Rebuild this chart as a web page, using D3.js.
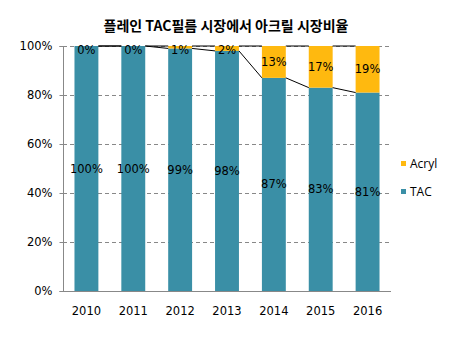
<!DOCTYPE html>
<html><head><meta charset="utf-8">
<script src="https://cdn.jsdelivr.net/npm/d3@7"></script>
<style>body{margin:0;background:#fff}svg{display:block}</style>
</head><body>
<script>
const years = ["2010","2011","2012","2013","2014","2015","2016"];
const tac = [100,100,99,98,87,83,81];
const acryl = [0,0,1,2,13,17,19];
const yTicks = [0,20,40,60,80,100];
const title = "플레인 TAC필름 시장에서 아크릴 시장비율";

const W=452,H=339;
const svg=d3.select("body").append("svg").attr("width",W).attr("height",H);
const x=d3.scaleBand().domain(years).range([63,391]).paddingInner(0.49).paddingOuter(0.245);
const y=d3.scaleLinear().domain([0,100]).range([291,46]);
const cTac="#3A8FA6", cAcr="#FFB90F";
const font="DejaVu Sans";

svg.append("text").attr("x",226).attr("y",31).attr("text-anchor","middle")
  .attr("font-family","Noto Sans CJK KR").attr("font-weight","bold").attr("font-size",14)
  .text(title);

// gridlines
svg.append("g").selectAll("line").data(yTicks.filter(d=>d>0)).join("line")
  .attr("x1",63).attr("x2",390).attr("y1",d=>y(d)+0.5).attr("y2",d=>y(d)+0.5)
  .attr("stroke","#888").attr("stroke-dasharray","4,3").attr("stroke-width",1);

// bars
const g=svg.append("g");
g.selectAll("rect.tac").data(years).join("rect")
  .attr("x",d=>x(d)).attr("width",x.bandwidth())
  .attr("y",(d,i)=>y(tac[i])).attr("height",(d,i)=>y(0)-y(tac[i])).attr("fill",cTac);
g.selectAll("rect.acr").data(years).join("rect")
  .attr("x",d=>x(d)).attr("width",x.bandwidth())
  .attr("y",(d,i)=>y(tac[i]+acryl[i])).attr("height",(d,i)=>y(tac[i])-y(tac[i]+acryl[i])).attr("fill",cAcr);

// series lines
const sl=svg.append("g").attr("stroke","#000").attr("stroke-width",1).attr("fill","none");
for(let i=0;i<years.length-1;i++){
  sl.append("line").attr("x1",x(years[i])+x.bandwidth()).attr("x2",x(years[i+1]))
    .attr("y1",y(tac[i])).attr("y2",y(tac[i+1]));
  sl.append("line").attr("x1",x(years[i])+x.bandwidth()).attr("x2",x(years[i+1]))
    .attr("y1",y(tac[i]+acryl[i])).attr("y2",y(tac[i+1]+acryl[i+1]));
}

// axes
const ya=svg.append("g").attr("transform","translate(63.5,0)")
  .call(d3.axisLeft(y).tickValues(yTicks).tickFormat(d=>d+"%").tickSize(4).tickPadding(7));
ya.select(".domain").attr("stroke","#888").attr("d","M-4,291.5H0V46.5H-4");
ya.selectAll(".tick line").attr("stroke","#888");
ya.selectAll("text").attr("font-family",font).attr("font-size",11.5).attr("fill","#000");

const xa=svg.append("g").attr("transform","translate(0,291.5)")
  .call(d3.axisBottom(x).tickSize(0).tickPadding(15));
xa.select(".domain").attr("stroke","#888").attr("d","M63,0H391");
xa.selectAll("text").attr("font-family",font).attr("font-size",11.5).attr("fill","#000");

// labels
const lab=svg.append("g").attr("font-family",font).attr("font-size",11.5).attr("text-anchor","middle").attr("fill","#000");
years.forEach((d,i)=>{
  const cx=x(d)+x.bandwidth()/2;
  lab.append("text").attr("x",cx).attr("y",(y(0)+y(tac[i]))/2).attr("dy","0.35em").text(tac[i]+"%");
  lab.append("text").attr("x",cx).attr("y",Math.max((y(tac[i])+y(100))/2,y(100)+4)).attr("dy","0.35em").text(acryl[i]+"%");
});

// legend
const leg=svg.append("g").attr("font-family","Open Sans").attr("font-size",12);
[["Acryl",cAcr,161],["TAC",cTac,189]].forEach(([n,c,yy])=>{
  leg.append("rect").attr("x",401).attr("y",yy).attr("width",5).attr("height",5).attr("fill",c);
  leg.append("text").attr("x",410).attr("y",yy+6.5).text(n);
});
</script>
</body></html>
